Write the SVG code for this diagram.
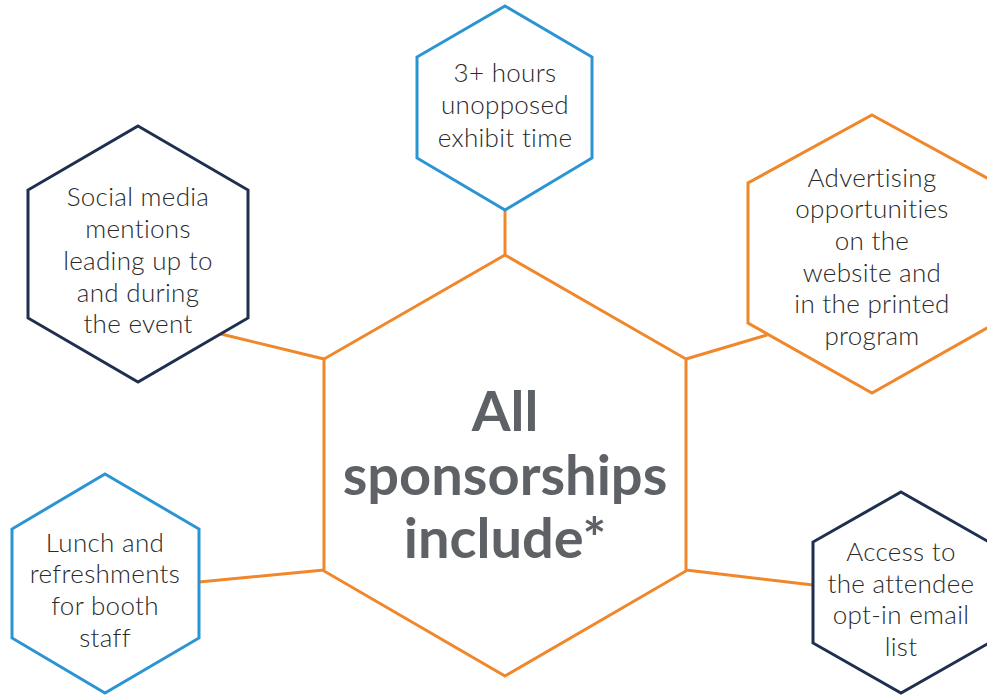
<svg xmlns="http://www.w3.org/2000/svg" width="987" height="695" viewBox="0 0 987 695">
<style>
.hex{fill:#ffffff;stroke-width:3;stroke-linejoin:miter}
.o{stroke:#f0872a}.b{stroke:#2b95d3}.n{stroke:#1f2f4f}
.conn{stroke:#f0872a;stroke-width:3;fill:none}
.t{font-family:Lato,"Noto Sans",sans-serif;font-weight:300;font-size:26px;fill:#2a2a2a;text-anchor:middle;letter-spacing:0.3px}
.c{font-family:Lato,"Noto Sans",sans-serif;font-weight:bold;font-size:56px;fill:#5e6267;text-anchor:middle}
</style>
<rect width="987" height="695" fill="#ffffff"/>
<g id="connectors">
<line class="conn" x1="505" y1="210" x2="505" y2="255"/>
<line class="conn" x1="221" y1="334" x2="324" y2="359"/>
<line class="conn" x1="767" y1="335" x2="686" y2="359"/>
<line class="conn" x1="199" y1="582" x2="324" y2="570"/>
<line class="conn" x1="686" y1="570" x2="813" y2="585"/>
</g>
<g id="center">
<polygon class="hex o" points="505,255 686,359 686,571 505,676 324,571 324,359"/>
<text class="c" x="505" y="431">All</text>
<text class="c" x="505" y="495">sponsorships</text>
<text class="c" x="505" y="558">include*</text>
</g>
<g id="exhibit">
<polygon class="hex b" points="505,6 592,57 592,158 505,210 417,158 417,57"/>
<text class="t" x="505" y="82">3+ hours</text>
<text class="t" x="505" y="114">unopposed</text>
<text class="t" x="505" y="147">exhibit time</text>
</g>
<g id="social">
<polygon class="hex n" points="138,126 248,190 248,318 138,382 28,318 28,190"/>
<text class="t" x="138" y="206">Social media</text>
<text class="t" x="138" y="238">mentions</text>
<text class="t" x="138" y="270">leading up to</text>
<text class="t" x="138" y="302">and during</text>
<text class="t" x="138" y="333">the event</text>
</g>
<g id="advertising">
<polygon class="hex o" points="872,115 996,183 996,323 872,393 748,323 748,183"/>
<text class="t" x="872" y="187">Advertising</text>
<text class="t" x="872" y="218">opportunities</text>
<text class="t" x="872" y="250">on the</text>
<text class="t" x="872" y="282">website and</text>
<text class="t" x="872" y="313">in the printed</text>
<text class="t" x="872" y="345">program</text>
</g>
<g id="lunch">
<polygon class="hex b" points="105,474 199,529 199,638 105,693 12,638 12,529"/>
<text class="t" x="105" y="552">Lunch and</text>
<text class="t" x="105" y="583">refreshments</text>
<text class="t" x="105" y="615">for booth</text>
<text class="t" x="105" y="647">staff</text>
</g>
<g id="access">
<polygon class="hex n" points="901,492 989,542 989,643 901,693 813,643 813,542"/>
<text class="t" x="901" y="561">Access to</text>
<text class="t" x="901" y="593">the attendee</text>
<text class="t" x="901" y="624">opt-in email</text>
<text class="t" x="901" y="656">list</text>
</g>
</svg>
